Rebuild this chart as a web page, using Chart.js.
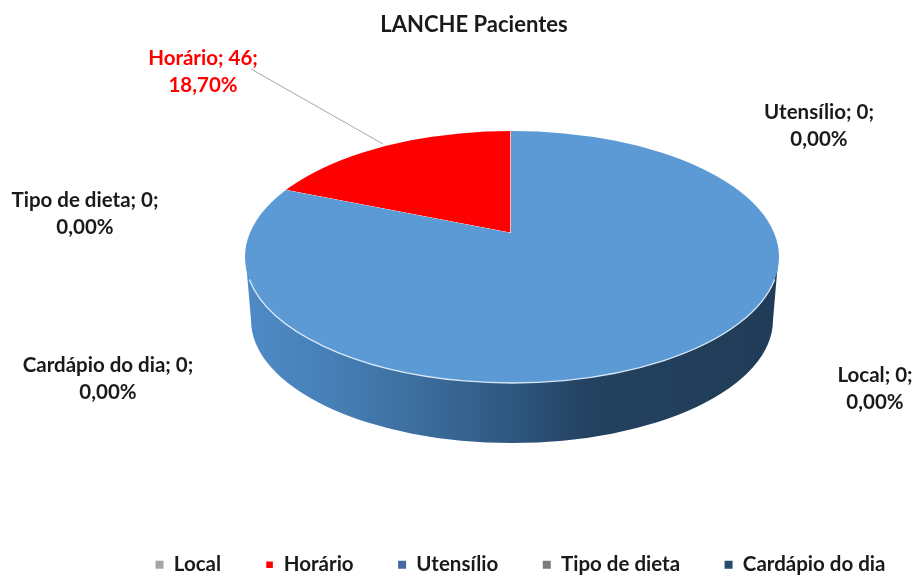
<!DOCTYPE html>
<html lang="pt">
<head>
<meta charset="utf-8">
<style>html,body{margin:0;padding:0;background:#fff}canvas{display:block}</style>
<script src="https://cdn.jsdelivr.net/npm/chart.js@4"></script>
</head>
<body>
<canvas id="c" width="915" height="576"></canvas>
<script>
// Data. The large blue slice has no name in the source legend.
const categories = ['Local', 'Horário', 'Utensílio', 'Tipo de dieta', 'Cardápio do dia'];
const values = [0, 46, 0, 0, 0, 200];
const sliceColors = ['#a5a5a5', '#ff0000', '#45699c', '#7b7b7b', '#264c70', '#5b9ad5'];
const titleText = 'LANCHE Pacientes';

// Styling and placement only
const labelSpots = [
  {i: 1, x: 203, y: 58, color: '#ff0000'},
  {i: 2, x: 819, y: 112, color: '#1a1a1a'},
  {i: 3, x: 85, y: 200, color: '#1a1a1a'},
  {i: 4, x: 108, y: 365, color: '#1a1a1a'},
  {i: 0, x: 875, y: 375, color: '#1a1a1a'}
];
const leader = {x1: 251, y1: 69, x2: 383, y2: 144, color: '#a6a6a6'};
const face = {cx: 512, cy: 257, rx: 267, ry: 126, tipX: 511, tipY: 233, tilt: 0.456};
const base = {cx: 512, cy: 320, rx: 261, ry: 123};
const fontFamily = 'Lato, Carlito, sans-serif';
const labelSize = 20.5;

const total = values.reduce((a, b) => a + b, 0);
const pct = v => (v / total * 100).toFixed(2).replace('.', ',') + '%';

const pie3d = {
  id: 'pie3d',
  afterLayout(chart) {
    const t = chart.titleBlock, l = chart.legend;
    t.left += 33;
    const shiftX = 63, shiftY = 9;
    l.left += shiftX; l.right += shiftX;
    l.top += shiftY; l.bottom += shiftY;
  },
  beforeDatasetsDraw(chart) {
    const ctx = chart.ctx;
    ctx.save();
    const g = ctx.createLinearGradient(base.cx - base.rx, 0, base.cx + base.rx, 0);
    g.addColorStop(0, '#4f8ac6');
    g.addColorStop(0.15, '#4780b7');
    g.addColorStop(0.35, '#3a6a99');
    g.addColorStop(0.5, '#2e5780');
    g.addColorStop(0.65, '#234160');
    g.addColorStop(1, '#203c58');
    ctx.fillStyle = g;
    ctx.beginPath();
    ctx.moveTo(face.cx + face.rx - 1, face.cy + 5);
    ctx.lineTo(base.cx + base.rx, base.cy);
    ctx.ellipse(base.cx, base.cy, base.rx, base.ry, 0, 0, Math.PI);
    ctx.lineTo(face.cx - face.rx + 1, face.cy + 5);
    ctx.closePath();
    ctx.fill();
    ctx.restore();

    const arc = chart.getDatasetMeta(0).data[0];
    ctx.save();
    ctx.beginPath();
    ctx.ellipse(face.cx, face.cy, face.rx, face.ry, 0, 0, Math.PI * 2);
    ctx.clip();
    ctx.translate(face.tipX, face.tipY);
    ctx.scale(1, face.tilt);
    ctx.translate(-arc.x, -arc.y);
  },
  afterDatasetsDraw(chart) {
    const ctx = chart.ctx;
    ctx.restore();
    ctx.save();
    ctx.strokeStyle = 'rgba(225,238,250,0.95)';
    ctx.lineWidth = 1.3;
    ctx.beginPath();
    ctx.ellipse(face.cx, face.cy, face.rx, face.ry, 0, 0.18, Math.PI - 0.18);
    ctx.stroke();
    ctx.restore();
  },
  afterDraw(chart) {
    const ctx = chart.ctx;
    ctx.save();
    ctx.strokeStyle = leader.color;
    ctx.lineWidth = 1;
    ctx.beginPath();
    ctx.moveTo(leader.x1, leader.y1);
    ctx.lineTo(leader.x2, leader.y2);
    ctx.stroke();
    ctx.font = 'bold ' + labelSize + 'px ' + fontFamily;
    ctx.textAlign = 'center';
    ctx.textBaseline = 'middle';
    labelSpots.forEach(s => {
      ctx.fillStyle = s.color;
      ctx.fillText(categories[s.i] + '; ' + values[s.i] + ';', s.x, s.y);
      ctx.fillText(pct(values[s.i]), s.x, s.y + 27);
    });
    ctx.restore();
  }
};

new Chart(document.getElementById('c'), {
  type: 'pie',
  data: {
    labels: categories,
    datasets: [{
      data: values,
      backgroundColor: sliceColors,
      borderColor: '#ffffff',
      borderWidth: [0, 1.4, 0, 0, 0, 0],
      radius: 345,
      rotation: -(values[1] / total) * 360,
      clip: false
    }]
  },
  options: {
    responsive: false,
    animation: false,
    plugins: {
      tooltip: {enabled: false},
      title: {
        display: true,
        text: titleText,
        color: '#1a1a1a',
        font: {family: fontFamily, size: 22, weight: 'bold'},
        padding: {top: 12, bottom: 6}
      },
      legend: {
        position: 'bottom',
        labels: {
          boxWidth: 8,
          boxHeight: 8,
          padding: 44.5,
          color: '#1a1a1a',
          font: {family: fontFamily, size: 20.5, weight: 'bold'}
        }
      }
    }
  },
  plugins: [pie3d]
});
</script>
</body>
</html>
